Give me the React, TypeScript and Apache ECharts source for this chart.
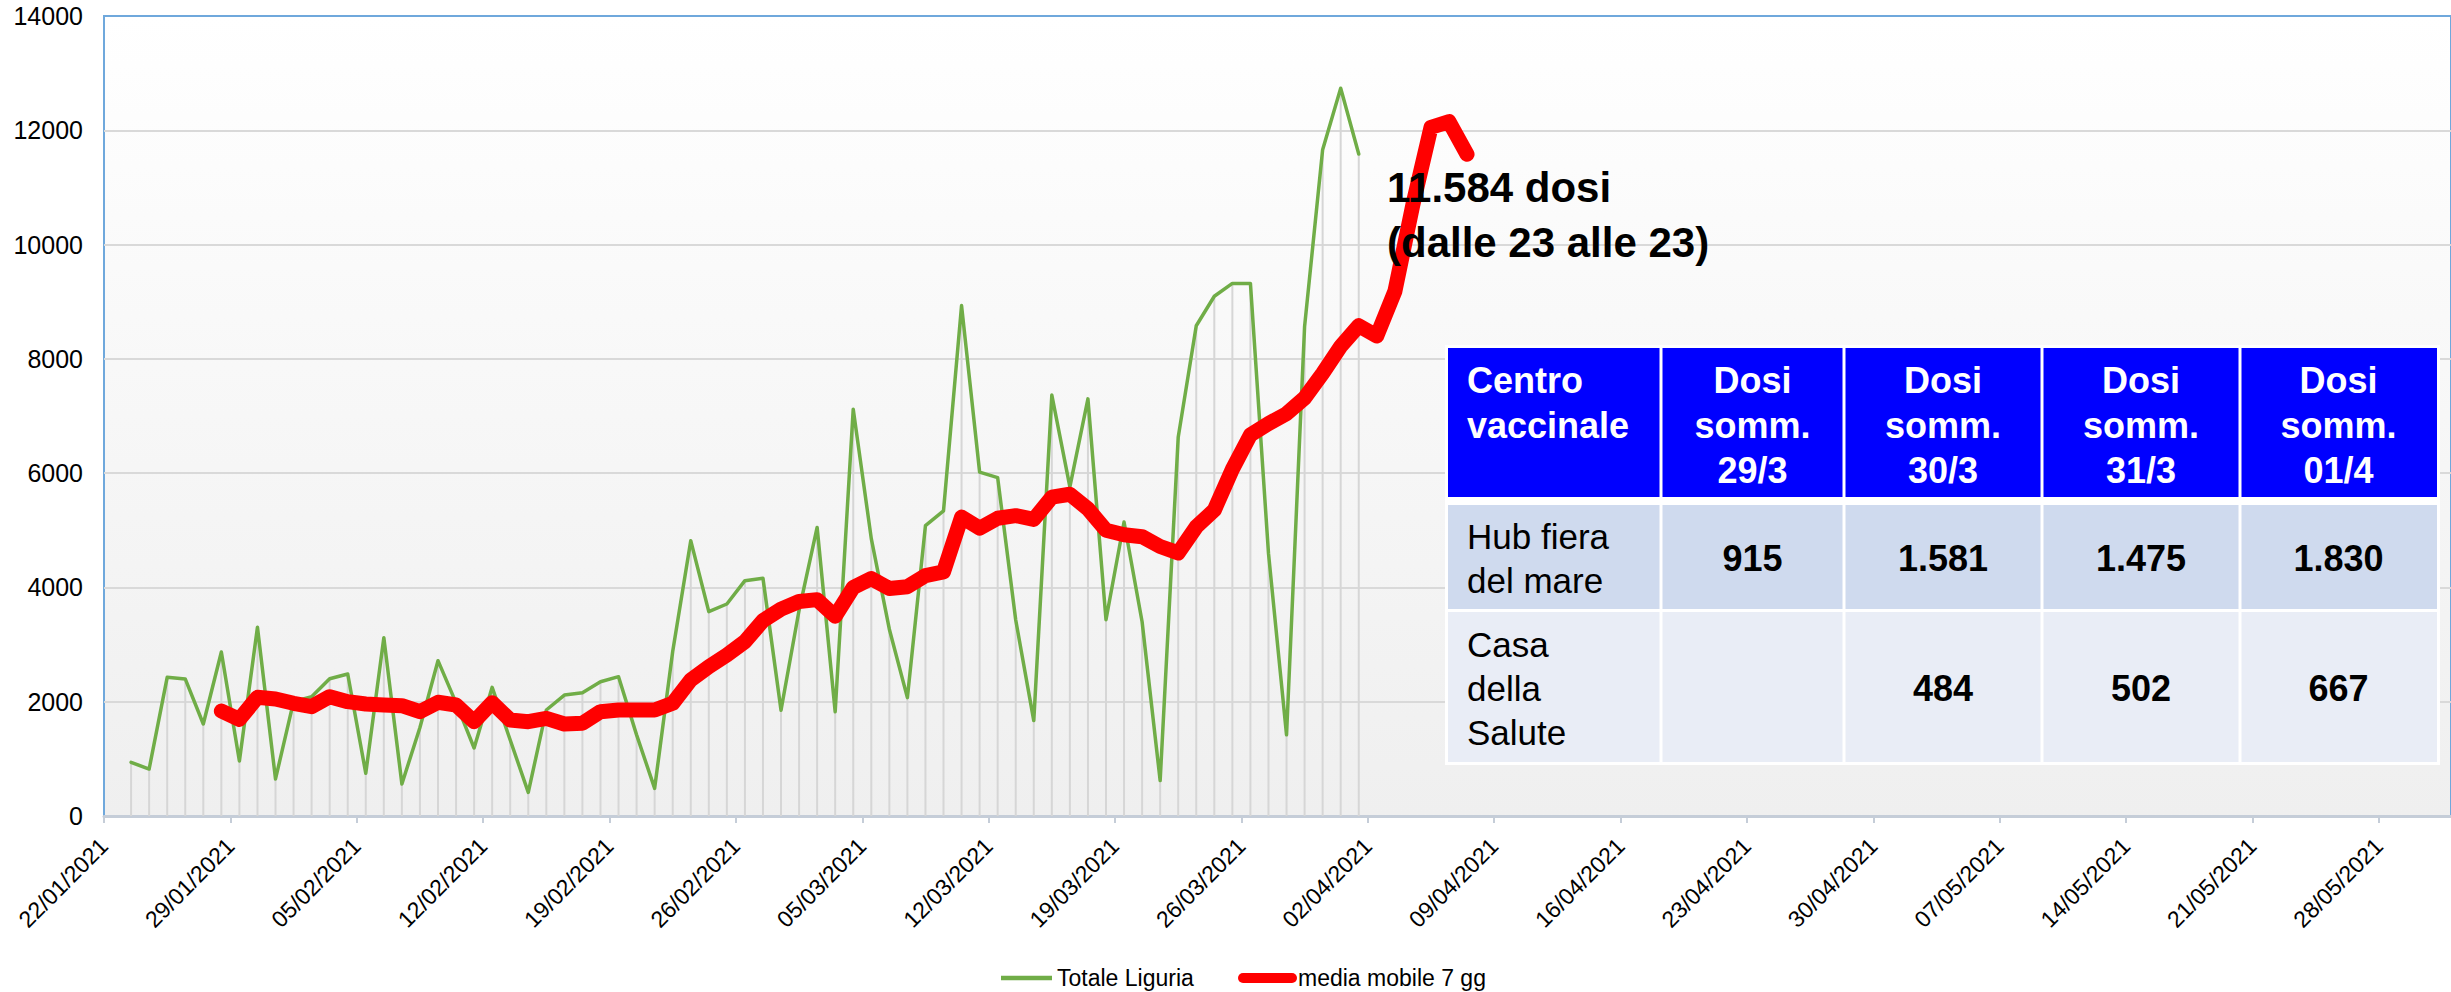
import React, { useEffect, useRef } from 'react';
import * as echarts from 'echarts';

// ---- axis definition ----
const axisStart = '22/01/2021';
const axisEnd = '01/06/2021';
const tickStepDays = 7;
const yMax = 14000;
const yStep = 2000;

// ---- series ----
const totaleStart = '23/01/2021';
const totaleLiguria = [
  940, 822, 2427, 2398, 1610, 2870, 962, 3302, 648, 2000,
  2088, 2403, 2485, 747, 3121, 560, 1550, 2718, 1980, 1190,
  2252, 1330, 414, 1855, 2117, 2158, 2350, 2438, 1420, 484,
  2880, 4818, 3576, 3710, 4118, 4160, 1850, 3600, 5049, 1825,
  7120, 4854, 3269, 2071, 5081, 5340, 8932, 6019, 5922, 3430,
  1670, 7366, 5760, 7300, 3435, 5146, 3399, 620, 6627, 8580,
  9096, 9320, 9320, 4600, 1420, 8563, 11661, 12737, 11584,
];

const mediaStart = '28/01/2021';
const mediaMobile7gg = [
  1837, 1692, 2077, 2048, 1972, 1913, 2088, 2001, 1960, 1943,
  1931, 1826, 1990, 1943, 1651, 1983, 1680, 1651, 1709, 1610,
  1622, 1826, 1855, 1855, 1855, 1972, 2380, 2613, 2818, 3051,
  3420, 3620, 3754, 3786, 3495, 4000, 4155, 3981, 4013, 4207,
  4272, 5230, 5036, 5210, 5256, 5191, 5579, 5631, 5375, 5000,
  4923, 4888, 4716, 4604, 5060, 5353, 6067, 6670, 6867, 7040,
  7315, 7745, 8219, 8580, 8400, 9180, 10700, 12050, 12150, 11580,
];

const legendNames = ['Totale Liguria', 'media mobile 7 gg'];
const annotationLines = ['11.584 dosi', '(dalle 23 alle 23)'];

// ---- table ----
const tableHeader = [
  'Centro\nvaccinale',
  'Dosi\nsomm.\n29/3',
  'Dosi\nsomm.\n30/3',
  'Dosi\nsomm.\n31/3',
  'Dosi\nsomm.\n01/4',
];
const tableRows = [
  ['Hub fiera\ndel mare', '915', '1.581', '1.475', '1.830'],
  ['Casa\ndella\nSalute', '', '484', '502', '667'],
];

const FONT = "'Liberation Sans', Arial, Helvetica, sans-serif";
const DAY = 86400000;

function parseDate(s: string): number {
  const [d, m, y] = s.split('/').map(Number);
  return Date.UTC(y, m - 1, d);
}
const t0 = parseDate(axisStart);
function dayIndex(s: string): number {
  return Math.round((parseDate(s) - t0) / DAY);
}
function fmtDay(v: number): string {
  const d = new Date(t0 + Math.round(v) * DAY);
  const dd = String(d.getUTCDate()).padStart(2, '0');
  const mm = String(d.getUTCMonth() + 1).padStart(2, '0');
  return `${dd}/${mm}/${d.getUTCFullYear()}`;
}

export default function App() {
  const ref = useRef<HTMLDivElement>(null);

  useEffect(() => {
    if (!ref.current) return;
    const chart = echarts.init(ref.current, undefined, { renderer: 'svg' });

    const gStart = dayIndex(totaleStart);
    const mStart = dayIndex(mediaStart);
    const totaleData = totaleLiguria.map((v, i) => [gStart + i + 0.5, v]);
    const mediaData = mediaMobile7gg.map((v, i) => [mStart + i + 0.5, v]);
    const xMax = dayIndex(axisEnd);

    const TOP_Z = 100;

    // table geometry (overlay, pixel layout)
    const colEdges = [1448, 1661, 1844, 2042, 2240, 2437];
    const rowEdges = [
      [348, 497],
      [505, 609],
      [612, 762],
    ];
    const rowFills = ['#0000ff', '#cfdaee', '#e9edf6'];
    const tableEls: any[] = [];
    tableEls.push({
      type: 'rect',
      z: TOP_Z,
      shape: { x: colEdges[0] - 3, y: rowEdges[0][0] - 3, width: colEdges[5] - colEdges[0] + 6, height: rowEdges[2][1] - rowEdges[0][0] + 6 },
      style: { fill: '#ffffff' },
    });
    const allRows = [tableHeader, ...tableRows];
    allRows.forEach((row, r) => {
      const [y0, y1] = rowEdges[r];
      row.forEach((cell, c) => {
        const x0 = colEdges[c] + (c === 0 ? 0 : 1.5);
        const x1 = colEdges[c + 1] - (c === 4 ? 0 : 1.5);
        tableEls.push({
          type: 'rect',
          z: TOP_Z + 1,
          shape: { x: x0, y: y0, width: x1 - x0, height: y1 - y0 },
          style: { fill: rowFills[r] },
        });
        if (!cell) return;
        const isHeader = r === 0;
        const left = c === 0;
        const tx = left ? colEdges[0] + 19 : (colEdges[c] + colEdges[c + 1]) / 2;
        const ty = isHeader ? y0 + 10 : (y0 + y1) / 2 + 1;
        tableEls.push({
          type: 'text',
          z: TOP_Z + 2,
          x: tx,
          y: ty,
          style: {
            text: cell,
            fill: isHeader ? '#ffffff' : '#000000',
            fontSize: isHeader ? 36 : (c === 0 ? 35 : 36),
            fontWeight: isHeader || c > 0 ? 'bold' : 'normal',
            fontFamily: FONT,
            lineHeight: isHeader ? 45 : 44,
            align: left ? 'left' : 'center',
            textAlign: left ? 'left' : 'center',
            verticalAlign: isHeader ? 'top' : 'middle',
            textVerticalAlign: isHeader ? 'top' : 'middle',
          },
        });
      });
    });

    const annotationEls = annotationLines.map((t, i) => ({
      type: 'text',
      z: TOP_Z,
      x: 1387,
      y: 187 + i * 55,
      style: {
        text: t,
        fill: '#000000',
        fontSize: 42,
        fontWeight: 'bold',
        fontFamily: FONT,
        align: 'left',
        textAlign: 'left',
        verticalAlign: 'middle',
        textVerticalAlign: 'middle',
      },
    }));

    const legendEls: any[] = [
      { type: 'line', z: TOP_Z, shape: { x1: 1001, y1: 978, x2: 1052, y2: 978 }, style: { stroke: '#70ad47', lineWidth: 4.5 } },
      { type: 'text', z: TOP_Z, x: 1057, y: 978, style: { text: legendNames[0], fill: '#000', fontSize: 23, fontFamily: FONT, align: 'left', textAlign: 'left', verticalAlign: 'middle', textVerticalAlign: 'middle' } },
      { type: 'line', z: TOP_Z, shape: { x1: 1243, y1: 978, x2: 1292, y2: 978 }, style: { stroke: '#ff0000', lineWidth: 10, lineCap: 'round' } },
      { type: 'text', z: TOP_Z, x: 1298, y: 978, style: { text: legendNames[1], fill: '#000', fontSize: 23, fontFamily: FONT, align: 'left', textAlign: 'left', verticalAlign: 'middle', textVerticalAlign: 'middle' } },
    ];

    chart.setOption({
      animation: false,
      backgroundColor: '#ffffff',
      grid: {
        left: 104,
        top: 16,
        width: 2349,
        height: 800,
        show: true,
        borderColor: '#6fa8dc',
        borderWidth: 2,
        backgroundColor: new echarts.graphic.LinearGradient(0, 0, 0, 1, [
          { offset: 0, color: '#ffffff' },
          { offset: 1, color: '#efefef' },
        ]),
      },
      xAxis: {
        type: 'value',
        min: 0,
        max: xMax,
        interval: tickStepDays,
        axisLine: { show: true, lineStyle: { color: '#c5cdd8', width: 3 } },
        axisTick: { show: true, length: 7, lineStyle: { color: '#c5cdd8', width: 2 } },
        splitLine: { show: false },
        axisLabel: {
          rotate: 45,
          margin: 26,
          fontSize: 23,
          color: '#000000',
          fontFamily: FONT,
          showMaxLabel: false,
          formatter: (v: number) => (Math.round(v) % tickStepDays === 0 ? fmtDay(v) : ''),
        },
      },
      yAxis: {
        type: 'value',
        min: 0,
        max: yMax,
        interval: yStep,
        axisLine: { show: false },
        axisTick: { show: false },
        axisLabel: {
          fontSize: 25,
          color: '#000000',
          fontFamily: FONT,
          margin: 21,
          formatter: (v: number) => String(v),
        },
        splitLine: { show: true, showMaxLine: false, showMinLine: false, lineStyle: { color: '#d9d9d9', width: 2 } },
      },
      series: [
        {
          name: 'drop',
          type: 'custom',
          z: 2,
          silent: true,
          data: totaleData,
          encode: { x: 0, y: 1 },
          renderItem: (params: any, api: any) => {
            const p = api.coord([api.value(0), api.value(1)]);
            const b = api.coord([api.value(0), 0]);
            return {
              type: 'line',
              shape: { x1: p[0], y1: p[1], x2: b[0], y2: b[1] },
              style: { stroke: '#d6d6d6', lineWidth: 2 },
            };
          },
        },
        {
          name: legendNames[0],
          type: 'line',
          z: 3,
          data: totaleData,
          showSymbol: false,
          symbol: 'none',
          lineStyle: { color: '#70ad47', width: 3.5, join: 'round', cap: 'round' },
          itemStyle: { color: '#70ad47' },
        },
        {
          name: legendNames[1],
          type: 'line',
          z: 4,
          data: mediaData,
          showSymbol: false,
          symbol: 'none',
          lineStyle: { color: '#ff0000', width: 15, join: 'round', cap: 'round' },
          itemStyle: { color: '#ff0000' },
        },
      ],
      graphic: [
        { type: 'group', z: TOP_Z, children: annotationEls },
        { type: 'group', z: TOP_Z, children: tableEls },
        { type: 'group', z: TOP_Z, children: legendEls },
      ],
    });

    return () => chart.dispose();
  }, []);

  return (
    <div
      ref={ref}
      style={{ position: 'absolute', left: 0, top: 0, width: 2451, height: 992 }}
    />
  );
}
